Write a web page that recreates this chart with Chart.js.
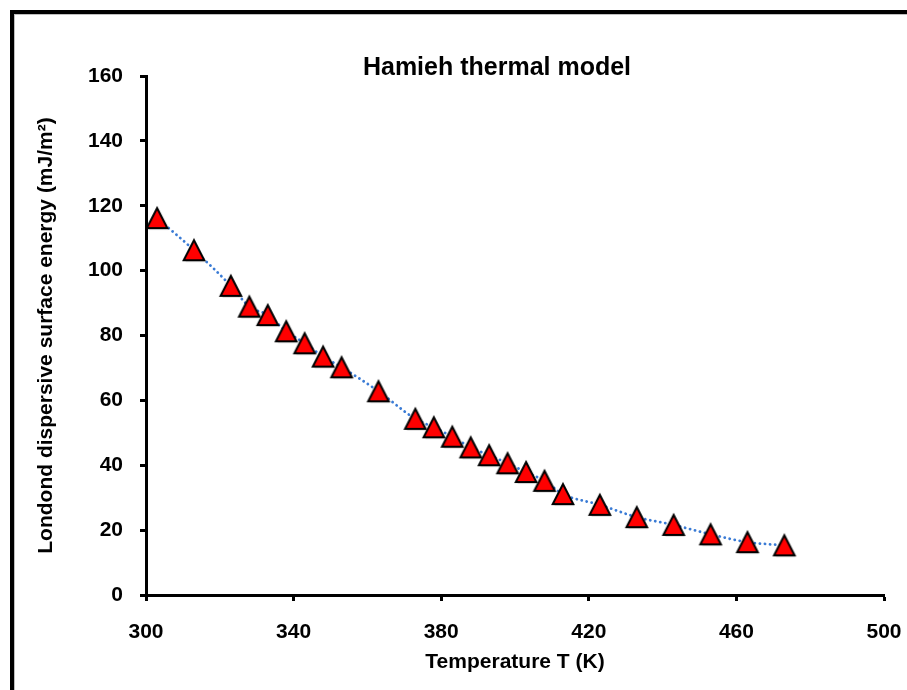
<!DOCTYPE html>
<html><head><meta charset="utf-8">
<script src="https://cdn.jsdelivr.net/npm/chart.js@4.4.1/dist/chart.umd.min.js"></script>
<style>html,body{margin:0;padding:0;background:#fff;} canvas{display:block;}</style>
</head><body>
<canvas id="c" width="907" height="690"></canvas>
<script>
// ---- data ----
const temperatures = [303,313,323,328,333,338,343,348,353,363,373,378,383,388,393,398,403,408,413,423,433,443,453,463,473];
const surfaceEnergy = [116.2,106.3,95.3,88.9,86.3,81.3,77.6,73.5,70.2,62.8,54.3,51.7,48.8,45.5,43.1,40.6,37.9,35.2,31.1,27.8,24.0,21.6,18.7,16.3,15.3];
const xTickValues = [300,340,380,420,460,500];
const yTickValues = [0,20,40,60,80,100,120,140,160];
const chartTitle = 'Hamieh thermal model';
const xTitle = 'Temperature T (K)';
const yTitle = 'Londond dispersive surface energy (mJ/m\u00B2)';

const FONT = "'Liberation Sans', Arial, sans-serif";

// triangle marker (bounding box centred on the point, as in the reference)
function makeTriangle() {
  const c = document.createElement('canvas');
  c.width = 26; c.height = 26;
  const g = c.getContext('2d');
  g.lineJoin = 'miter';
  g.beginPath();
  g.moveTo(14.5, 4.5); g.lineTo(24.5, 24.5); g.lineTo(4.5, 24.5); g.closePath();
  g.fillStyle = 'rgba(0,0,0,0.25)'; g.fill();
  g.beginPath();
  g.moveTo(13, 3); g.lineTo(23.3, 23); g.lineTo(2.7, 23); g.closePath();
  g.fillStyle = '#FF0000'; g.fill();
  g.lineWidth = 2; g.strokeStyle = '#000'; g.stroke();
  return c;
}
const tri = makeTriangle();

const points = temperatures.map((t, i) => ({x: t, y: surfaceEnergy[i]}));

const decorations = {
  id: 'decorations',
  afterDraw(chart) {
    const {ctx, chartArea} = chart;
    ctx.save();
    ctx.font = 'bold 25px ' + FONT;
    ctx.fillStyle = '#000';
    ctx.textAlign = 'center';
    ctx.textBaseline = 'middle';
    ctx.fillText(chartTitle, chartArea.left + chartArea.width * 0.4756, chartArea.top - 8);
    ctx.strokeStyle = 'rgba(0,0,0,0.25)';
    ctx.lineWidth = 1;
    ctx.strokeRect(14.5, 14.5, 2000, 2000);
    ctx.strokeStyle = '#000';
    ctx.lineWidth = 4;
    ctx.strokeRect(12, 12, 2000, 2000);
    ctx.restore();
  }
};

new Chart(document.getElementById('c'), {
  type: 'scatter',
  data: {
    datasets: [{
      data: points,
      showLine: true,
      cubicInterpolationMode: 'monotone',
      borderColor: '#3A7BD5',
      borderWidth: 2.8,
      borderDash: [0.1, 5],
      borderCapStyle: 'round',
      pointStyle: tri,
      pointRadius: 11,
      pointHoverRadius: 11
    }]
  },
  options: {
    responsive: false,
    animation: false,
    events: [],
    layout: {padding: {left: 0, top: 76, right: 23, bottom: 0}},
    plugins: {legend: {display: false}, tooltip: {enabled: false}, title: {display: false}},
    scales: {
      x: {
        type: 'linear', min: 300, max: 500,
        afterBuildTicks: s => { s.ticks = xTickValues.map(v => ({value: v})); },
        afterFit: s => { s.height = 95; s.paddingLeft = 0; s.paddingRight = 0; },
        grid: {drawOnChartArea: false, drawTicks: true, tickLength: 6, tickWidth: 3, tickColor: '#000'},
        border: {display: true, width: 3, color: '#000'},
        ticks: {color: '#000', padding: 19, maxRotation: 0, font: {family: FONT, size: 21, weight: 'bold'}},
        title: {display: true, text: xTitle, color: '#000', padding: {top: 0, bottom: 15}, font: {family: FONT, size: 21, weight: 'bold'}}
      },
      y: {
        type: 'linear', min: 0, max: 160,
        afterBuildTicks: s => { s.ticks = yTickValues.map(v => ({value: v})); },
        afterFit: s => { s.width = 146; s.paddingTop = 0; s.paddingBottom = 0; },
        grid: {drawOnChartArea: false, drawTicks: true, tickLength: 6, tickWidth: 3, tickColor: '#000'},
        border: {display: true, width: 3, color: '#000'},
        ticks: {color: '#000', padding: 17, font: {family: FONT, size: 21, weight: 'bold'}},
        title: {display: true, text: yTitle, color: '#000', padding: {top: 34, bottom: 0}, font: {family: FONT, size: 21, weight: 'bold'}}
      }
    }
  },
  plugins: [decorations]
});
</script>
</body></html>
